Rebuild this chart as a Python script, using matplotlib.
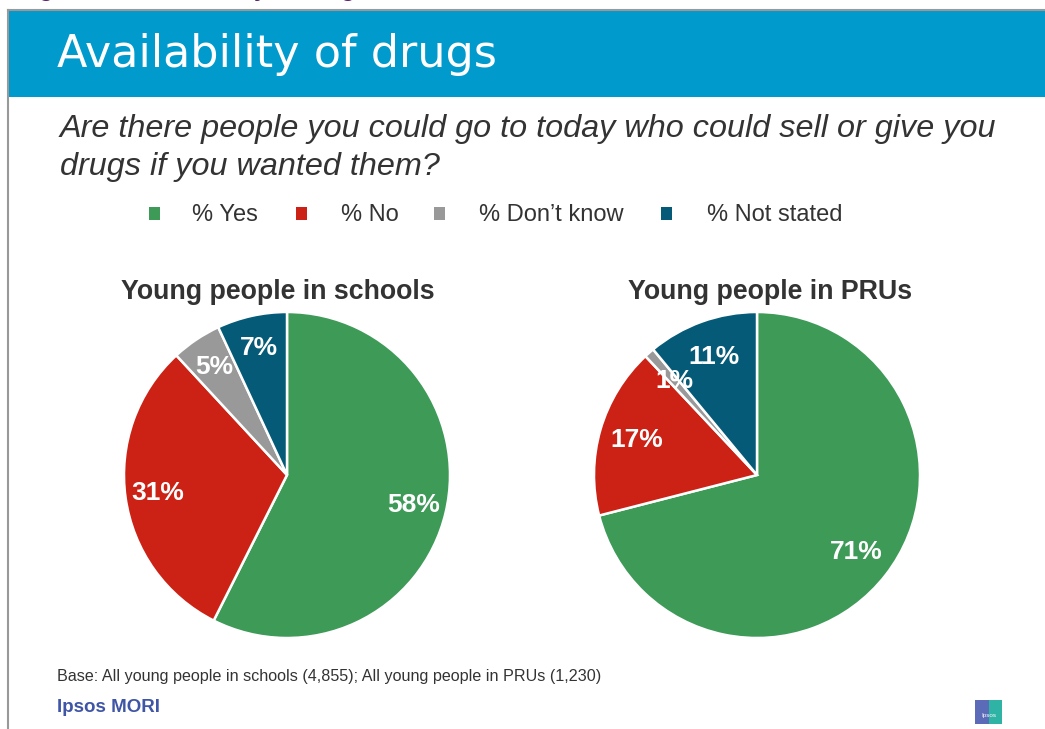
import matplotlib.pyplot as plt
from matplotlib.patches import Rectangle
from matplotlib.lines import Line2D

# Survey results (%)
categories = ['% Yes', '% No', '% Don\u2019t know', '% Not stated']
schools = [58, 31, 5, 7]
prus = [71, 17, 1, 11]
pie_titles = ['Young people in schools', 'Young people in PRUs']
colors = ['#3d9a57', '#cc2216', '#999999', '#045a77']

W, H = 1045, 729
fig = plt.figure(figsize=(W / 100, H / 100), dpi=100)
fig.patch.set_facecolor('white')


def fx(x):
    return x / W


def fy(y):
    return 1 - y / H


# caption cut off at the top of the page (only the descenders show)
fig.text(fx(18), fy(-4), 'Figure 9.2: Availability of drugs', color='#5a1a6e',
         fontsize=17, fontweight='bold', family='Liberation Sans', va='baseline')

# frame lines and blue banner
fig.add_artist(Line2D([fx(8), fx(8)], [fy(10), 0], color='#999999', lw=1.5))
fig.add_artist(Line2D([fx(8), 1], [fy(10), fy(10)], color='#999999', lw=1.5))
fig.add_artist(Rectangle((fx(9), fy(97)), 1 - fx(9), (97 - 11) / H,
                         color='#009acd', lw=0))
fig.text(fx(57), fy(55), 'Availability of drugs', color='white',
         fontsize=32, family='DejaVu Sans', va='center', ha='left')

# question
fig.text(fx(60), fy(129), 'Are there people you could go to today who could sell or give you',
         fontsize=23.3, style='italic', family='Liberation Sans', color='#333333', va='center')
fig.text(fx(60), fy(167), 'drugs if you wanted them?',
         fontsize=23.3, style='italic', family='Liberation Sans', color='#333333', va='center')

# legend
sq_x = [154, 301, 439, 666]
txt_x = [192, 341, 479, 707]
for c, lab, x, tx in zip(colors, categories, sq_x, txt_x):
    fig.add_artist(Rectangle((fx(x - 5), fy(220)), 11 / W, 13 / H, color=c, lw=0))
    fig.text(fx(tx), fy(215), lab, fontsize=17, family='Liberation Sans',
             color='#333333', va='center', ha='left')

# pies
centers = [287, 757]
title_x = [278, 770]
R = 163
for cx, tx, vals, title, pdist in zip(centers, title_x, [schools, prus], pie_titles, [0.8, 0.77]):
    ax = fig.add_axes([fx(cx - R), fy(475 + R), 2 * R / W, 2 * R / H])
    it = iter(vals)
    ax.pie(vals, colors=colors, startangle=90, counterclock=False,
           wedgeprops=dict(edgecolor='white', linewidth=1.8),
           autopct=lambda p: '%d%%' % next(it), pctdistance=pdist,
           textprops=dict(color='white', fontsize=19, fontweight='bold',
                          family='Liberation Sans'))
    ax.set_xlim(-1, 1)
    ax.set_ylim(-1, 1)
    ax.set_aspect('equal')
    ax.axis('off')
    fig.text(fx(tx), fy(292), title, fontsize=19.3, fontweight='bold',
             family='Liberation Sans', color='#333333', ha='center', va='center')

# footer
fig.text(fx(57), fy(676), 'Base: All young people in schools (4,855); All young people in PRUs (1,230)',
         fontsize=11.6, family='Liberation Sans', color='#333333', va='center')
fig.text(fx(57), fy(707), 'Ipsos MORI', fontsize=13.5, fontweight='bold',
         family='Liberation Sans', color='#3f55a5', va='center')

# small Ipsos logo
fig.add_artist(Rectangle((fx(975), fy(724)), 14 / W, 24 / H, color='#5b6bb8', lw=0))
fig.add_artist(Rectangle((fx(989), fy(724)), 13 / W, 24 / H, color='#2fb3a5', lw=0))
fig.text(fx(988.5), fy(716), 'Ipsos', fontsize=4.5, color='white',
         ha='center', va='center', family='Liberation Sans')

fig.savefig('out.png', dpi=100)
plt.close(fig)
